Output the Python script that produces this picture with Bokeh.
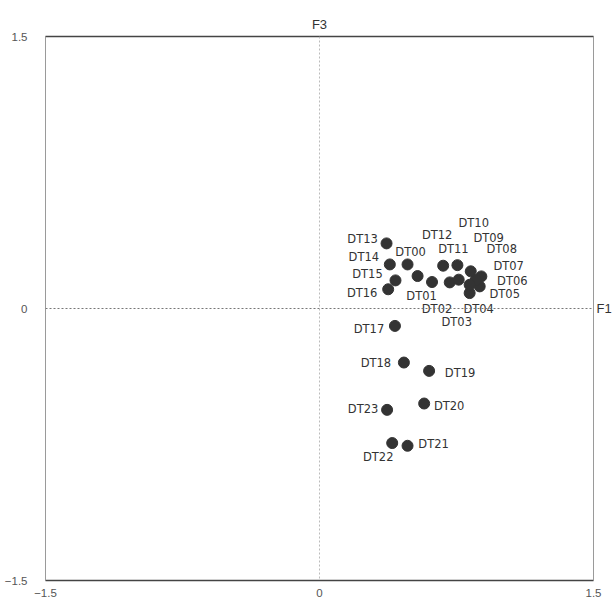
from bokeh.plotting import figure
from bokeh.models import ColumnDataSource, Span, LinearAxis, FixedTicker
from bokeh.core.properties import value
from bokeh.embed import file_html
from bokeh.resources import INLINE

# Observation scores on factors F1 (horizontal) and F3 (vertical)
names = ["DT00", "DT01", "DT02", "DT03", "DT04", "DT05", "DT06", "DT07",
         "DT08", "DT09", "DT10", "DT11", "DT12", "DT13", "DT14", "DT15",
         "DT16", "DT17", "DT18", "DT19", "DT20", "DT21", "DT22", "DT23"]
f1 = [0.482, 0.537, 0.616, 0.713, 0.822, 0.877, 0.886, 0.855,
      0.828, 0.822, 0.762, 0.755, 0.677, 0.367, 0.385, 0.416,
      0.376, 0.413, 0.462, 0.600, 0.573, 0.482, 0.398, 0.370]
f3 = [0.243, 0.179, 0.146, 0.144, 0.085, 0.122, 0.177, 0.157,
      0.205, 0.131, 0.159, 0.239, 0.236, 0.359, 0.243, 0.155,
      0.106, -0.096, -0.298, -0.344, -0.524, -0.757, -0.742, -0.559]
axis_ticks = [-1.5, 0, 1.5]

# label placement around each point, in screen pixels
label_dx = [3, 4, 5, 7, 9, 25, 31, 33, 31, 19, 15, -4, -6,
            -24, -26, -28, -26, -26, -28, 31, 25, 26, -14, -24]
label_dy = [-12, 20, 27, 40, 16, 8, 5, -14, -22, -47, -57, -16, -31,
            -4, -7, -6, 4, 3, 0, 2, 2, -2, 14, -1]

src = ColumnDataSource(dict(x=f1, y=f3, name=names, dx=label_dx, dy=label_dy))

p = figure(width=614, height=599, x_range=(-1.5, 1.5), y_range=(-1.5, 1.5),
           output_backend="svg", toolbar_location=None,
           min_border_left=45, min_border_right=0,
           min_border_top=36, min_border_bottom=18)
p.background_fill_color = "white"
p.border_fill_color = "white"
p.grid.visible = False
p.outline_line_color = "#9a9a9a"
p.outline_line_width = 1

p.title.text = "F3"
p.title.align = "center"
p.title.text_font = "Liberation Sans"
p.title.text_font_size = "13px"
p.title.text_font_style = "normal"
p.title.text_color = "#333333"
p.title.offset = -2

for ax in (p.xaxis[0], p.yaxis[0]):
    ax.ticker = FixedTicker(ticks=axis_ticks)
    ax.major_tick_line_color = None
    ax.minor_tick_line_color = None
    ax.major_label_text_font = "Liberation Sans"
    ax.major_label_text_font_size = "11.5px"
    ax.major_label_text_color = "#555555"
p.xaxis.axis_line_color = "#444444"
p.xaxis.axis_line_width = 1.6
p.xaxis.major_label_standoff = 2
p.yaxis.axis_line_color = "#9a9a9a"
p.yaxis.major_label_standoff = 12

top_axis = LinearAxis(ticker=FixedTicker(ticks=[]), axis_line_color="#444444",
                      axis_line_width=1.6, major_tick_line_color=None,
                      minor_tick_line_color=None)
p.add_layout(top_axis, "above")

# horizontal factor name sits at the right end of the zero line
right_axis = LinearAxis(ticker=FixedTicker(ticks=[0]),
                        major_label_overrides={0: "F1"},
                        axis_line_color="#9a9a9a", major_tick_line_color=None,
                        minor_tick_line_color=None, major_label_standoff=-3,
                        major_label_text_font="Liberation Sans",
                        major_label_text_font_size="13px",
                        major_label_text_color="#333333")
p.add_layout(right_axis, "right")

p.add_layout(Span(location=0, dimension="width", line_color="#777777",
                  line_dash="2 2", line_width=1))
p.add_layout(Span(location=0, dimension="height", line_color="#bbbbbb",
                  line_dash="2 2", line_width=1))

p.scatter("x", "y", source=src, size=11, color="#333333")
p.text("x", "y", text="name", source=src, x_offset="dx", y_offset="dy",
       text_align="center", text_baseline="middle",
       text_font=value("DejaVu Sans"), text_font_size="11.5px",
       text_color="#333333")

open("out.html", "w").write(file_html(p, INLINE))
